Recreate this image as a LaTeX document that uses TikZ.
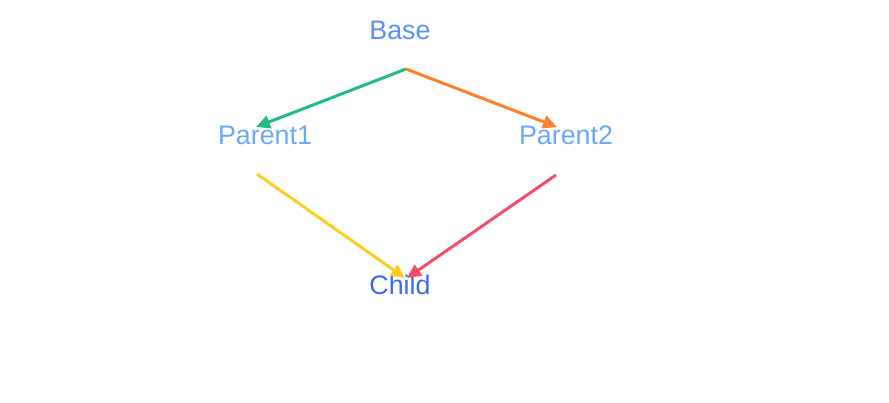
\documentclass[tikz,border=0pt]{standalone}
\usepackage{fontspec}
\setmainfont{Liberation Sans}
\usetikzlibrary{arrows.meta}
\definecolor{cbase}{HTML}{5B8FF9}
\definecolor{cparent}{HTML}{6AA8F9}
\definecolor{cchild}{HTML}{3E6BE0}
\definecolor{cgreen}{HTML}{22BC80}
\definecolor{corange}{HTML}{FF7F2A}
\definecolor{cyellow}{HTML}{FFCC22}
\definecolor{cred}{HTML}{F24E6A}
\begin{document}
\begin{tikzpicture}[x=1pt,y=-1pt,
  lbl/.style={font=\fontsize{26.8}{30}\selectfont, inner sep=0pt},
  conn/.style={line width=3pt, -{Triangle[length=14pt,width=13pt]}}]
\useasboundingbox (0,0) rectangle (889,403);
\node[lbl, text=cbase] (base) at (400,30) {Base};
\node[lbl, text=cparent] (p1) at (265,135) {Parent1};
\node[lbl, text=cparent] (p2) at (566,135) {Parent2};
\node[lbl, text=cchild] (child) at (400,285) {Child};
\coordinate (bout) at (406,69);
\coordinate (p1in) at (256,127);
\coordinate (p2in) at (557,127);
\coordinate (p1out) at (257,174);
\coordinate (p2out) at (556,175);
\coordinate (cin1) at (405,278);
\coordinate (cin2) at (407,278);
\draw[conn, cgreen] (bout) -- (p1in);
\draw[conn, corange] (bout) -- (p2in);
\draw[conn, cyellow] (p1out) -- (cin1);
\draw[conn, cred] (p2out) -- (cin2);
\end{tikzpicture}
\end{document}
